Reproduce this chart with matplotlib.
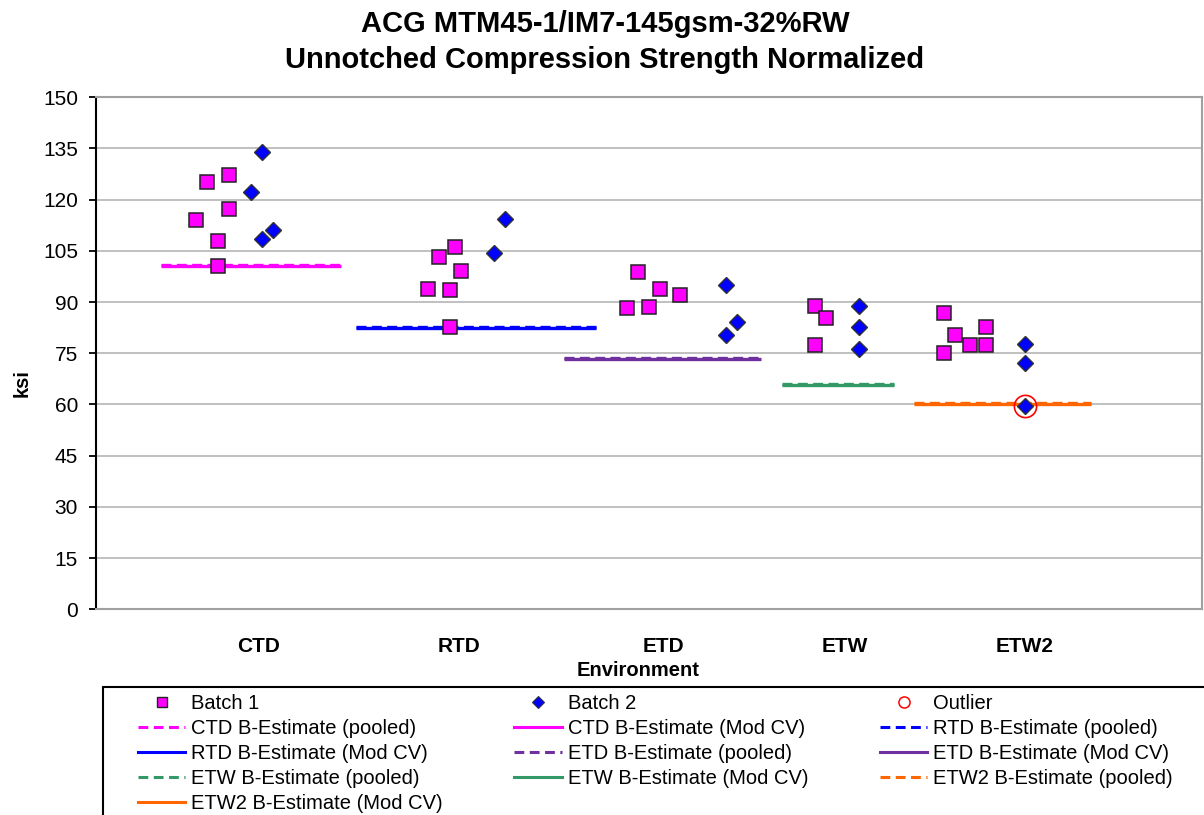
import matplotlib.pyplot as plt
from matplotlib.lines import Line2D
from matplotlib.patches import Rectangle

plt.rcParams['font.family'] = ['Liberation Sans', 'DejaVu Sans']

# -----------------------------
# Data (ksi), x = position along the environment axis
# -----------------------------
envs = ["CTD", "RTD", "ETD", "ETW", "ETW2"]
env_x = [0.88, 1.97, 3.08, 4.06, 5.04]
env_colors = ["#ff00ff", "#0000ff", "#7030a0", "#339966", "#ff6600"]

b1_x = [[0.60, 0.72, 0.72, 0.54, 0.66, 0.66],
        [1.86, 1.95, 1.98, 1.80, 1.92, 1.92],
        [2.94, 3.06, 3.17, 2.88, 3.00],
        [3.90, 3.96, 3.90],
        [4.60, 4.66, 4.60, 4.74, 4.83, 4.83]]
b1_y = [[125.3, 127.3, 117.4, 114.0, 107.9, 100.7],
        [103.2, 106.1, 99.2, 93.8, 93.6, 82.6],
        [98.8, 93.9, 92.1, 88.3, 88.5],
        [88.9, 85.4, 77.4],
        [86.7, 80.3, 75.1, 77.4, 82.7, 77.4]]

b2_x = [[0.90, 0.84, 0.96, 0.90],
        [2.22, 2.16],
        [3.42, 3.48, 3.42],
        [4.14, 4.14, 4.14],
        [5.04, 5.04, 5.04]]
b2_y = [[133.9, 122.4, 111.1, 108.4],
        [114.2, 104.3],
        [95.1, 84.2, 80.3],
        [88.9, 82.6, 76.3],
        [77.8, 72.3, 59.7]]

outlier_x = [5.04]
outlier_y = [59.7]

# B-basis estimates
best_pooled = [100.9, 82.8, 73.7, 65.9, 60.4]
best_modcv = [100.6, 82.5, 73.4, 65.6, 60.1]
line_start = [0.35, 1.41, 2.54, 3.72, 4.44]
line_end = [1.33, 2.71, 3.61, 4.33, 5.40]

# -----------------------------
# Plot
# -----------------------------
fig = plt.figure(figsize=(12.04, 8.15), dpi=100)
ax = fig.add_axes([96 / 1204, 1 - 609.3 / 815, 1106 / 1204, 512 / 815])

for i in range(len(envs)):
    c = env_colors[i]
    ax.plot([line_start[i], line_end[i]], [best_modcv[i], best_modcv[i]],
            color=c, lw=2.4, solid_capstyle="butt", zorder=2)
    ax.plot([line_start[i], line_end[i]], [best_pooled[i], best_pooled[i]],
            color=c, lw=2.4, ls=(0, (3, 1.6)), dash_capstyle="butt", zorder=2)

for i in range(len(envs)):
    ax.plot(b1_x[i], b1_y[i], ls="none", marker="s", ms=10, mfc="#ff00ff",
            mec="#222222", mew=1.1, zorder=3)
    ax.plot(b2_x[i], b2_y[i], ls="none", marker="D", ms=8.3, mfc="#0000ff",
            mec="#333333", mew=1.0, zorder=4)

ax.plot(outlier_x, outlier_y, ls="none", marker="o", ms=16, mfc="none",
        mec="#ff0000", mew=1.2, zorder=5)

ax.set_xlim(0, 6)
ax.set_ylim(0, 150)
ax.set_yticks(range(0, 151, 15))
ax.set_xticks(env_x)
ax.set_xticklabels(envs, fontsize=15, fontweight="bold")
ax.tick_params(axis="x", length=0, pad=20)
ax.tick_params(axis="y", labelsize=15, length=5, width=1.3, direction="out", pad=8)
ax.grid(axis="y", color="#c0c0c0", lw=1.4)
ax.set_axisbelow(True)

ax.spines["left"].set_color("black")
ax.spines["left"].set_linewidth(1.5)
for s in ["top", "right", "bottom"]:
    ax.spines[s].set_color("#a0a0a0")
    ax.spines[s].set_linewidth(1.5)

ax.set_xlabel("Environment", fontsize=14.5, fontweight="bold")
ax.xaxis.set_label_coords((638 - 96) / 1106, -(671 - 609.3) / 512)
ax.xaxis.label.set_va("center")
ax.set_ylabel("ksi", fontsize=14.5, fontweight="bold")
ax.yaxis.set_label_coords(-(96 - 22) / 1106, (609.3 - 383) / 512)
ax.yaxis.label.set_va("center")

fig.text(605 / 1204, 1 - 42 / 815,
         "ACG MTM45-1/IM7-145gsm-32%RW\nUnnotched Compression Strength Normalized",
         ha="center", va="center", fontsize=21, fontweight="bold", linespacing=1.35)

# -----------------------------
# Legend (row-major order, reordered for column filling)
# -----------------------------
handles = [
    Line2D([], [], ls="none", marker="s", ms=7.5, mfc="#ff00ff", mec="#222222", mew=1.0),
    Line2D([], [], ls="none", marker="D", ms=6, mfc="#0000ff", mec="#333333", mew=0.8),
    Line2D([], [], ls="none", marker="o", ms=8, mfc="none", mec="#ff0000", mew=1.1),
]
labels = ["Batch 1", "Batch 2", "Outlier"]
for i in range(len(envs)):
    handles.append(Line2D([], [], color=env_colors[i], lw=2.2, ls=(0, (3.2, 1.8))))
    labels.append(envs[i] + " B-Estimate (pooled)")
    handles.append(Line2D([], [], color=env_colors[i], lw=2.2))
    labels.append(envs[i] + " B-Estimate (Mod CV)")

order = [0, 3, 6, 9, 12, 1, 4, 7, 10, 2, 5, 8, 11]
fig.legend([handles[k] for k in order], [labels[k] for k in order],
           ncol=3, loc="upper left", bbox_to_anchor=(138 / 1204, 1 - 694 / 815),
           frameon=False, fontsize=14.5, borderpad=0, borderaxespad=0,
           handlelength=2.35, handletextpad=0.3, columnspacing=3.55,
           labelspacing=0.3)

fig.patches.append(Rectangle((103 / 1204, -0.1), 1.2, 0.1 + (1 - 687 / 815),
                             transform=fig.transFigure, fill=False,
                             edgecolor="black", lw=1.5))

plt.savefig("out.png", dpi=100)
